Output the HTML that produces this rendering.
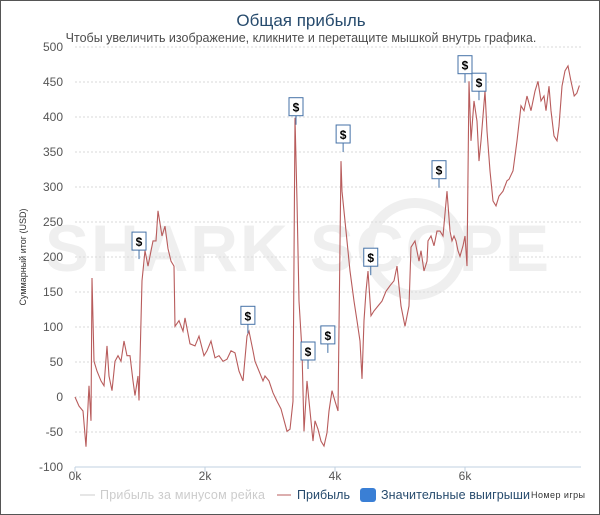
<!DOCTYPE html>
<html><head><meta charset="utf-8">
<style>
body{margin:0;background:#fff;font-family:"Liberation Sans","DejaVu Sans",sans-serif;}
#wrap{position:relative;width:598px;height:513px;border:1px solid #555;overflow:hidden;}
svg{position:absolute;left:0;top:0;}
</style></head><body>
<div id="wrap">
<svg id="chart" width="598" height="513"></svg>
</div>
<script>
const yTicks=[-100,-50,0,50,100,150,200,250,300,350,400,450,500];
const xTicks=[0,2000,4000,6000];
const xTickLabels=["0k","2k","4k","6k"];
const games=[0,62,123,169,215,246,262,292,338,400,446,492,523,569,615,662,708,754,800,846,892,923,969,985,1031,1077,1123,1200,1246,1277,1338,1385,1431,1477,1523,1538,1600,1662,1692,1769,1846,1908,1985,2031,2092,2154,2215,2277,2338,2400,2462,2523,2585,2646,2677,2738,2769,2831,2892,2923,2985,3046,3108,3169,3262,3308,3354,3385,3415,3446,3492,3523,3569,3615,3662,3692,3738,3785,3831,3877,3908,3954,4000,4046,4092,4108,4169,4231,4292,4338,4385,4415,4446,4477,4508,4554,4600,4662,4723,4785,4846,4908,4954,5015,5077,5138,5169,5231,5292,5323,5369,5415,5431,5477,5523,5569,5615,5662,5723,5769,5800,5831,5862,5892,5923,5969,6000,6031,6062,6092,6138,6185,6215,6246,6308,6338,6385,6431,6477,6523,6585,6646,6677,6738,6800,6862,6908,6954,7015,7077,7123,7169,7215,7246,7292,7323,7369,7415,7446,7492,7538,7585,7630,7680,7720,7760];
const profit=[0,-13,-20,-71,16,-34,170,51,37,23,16,73,30,9,51,59,51,80,59,59,23,2,30,-5,166,209,187,223,223,266,230,244,212,194,187,101,109,94,113,76,73,87,59,66,80,56,59,51,54,66,63,37,23,87,94,66,51,37,23,30,23,6,-6,-17,-49,-46,-6,399,280,137,66,-49,23,-20,-63,-34,-46,-63,-70,-51,-20,9,-6,-20,337,294,237,180,137,109,80,26,109,151,180,116,123,130,137,151,159,166,187,130,101,130,214,223,194,209,180,194,223,230,216,237,237,230,294,237,223,230,223,209,201,216,230,187,451,366,423,394,337,366,437,380,323,280,273,287,294,309,311,323,366,416,409,430,409,437,451,423,430,409,444,409,373,366,387,444,466,473,451,430,434,445,437];
const markerGames=[985,3400,4125,2660,3585,3890,4550,5600,6000,6215];
const markerValues=[197,389,350,91,40,63,174,299,449,424];

const NS="http://www.w3.org/2000/svg";
const svg=document.getElementById('chart');
const X0=74,X1=580,Y0=466,Y1=46;
const xs=g=>X0+g/1000*65;
const ys=v=>Y0-(v+100)/600*(Y0-Y1);
function mk(tag,attrs,parent){const e=document.createElementNS(NS,tag);for(const k in attrs)e.setAttribute(k,attrs[k]);(parent||svg).appendChild(e);return e;}

// watermark
const wm=mk('text',{x:297,y:270,'text-anchor':'middle','font-size':66,'font-weight':'bold',fill:'#efefef','letter-spacing':2,'font-family':'Liberation Sans, sans-serif'});


wm.textContent='SHARK SCOPE';
const wc=mk('circle',{cx:414,cy:248,r:46,fill:'none',stroke:'#efefef','stroke-width':10});



// title
const t=mk('text',{x:300,y:25,'text-anchor':'middle','font-size':17,fill:'#274b6d'});


t.textContent='Общая прибыль';
const st=mk('text',{x:300,y:41,'text-anchor':'middle','font-size':12.5,fill:'#4d4d4d'});


st.textContent='Чтобы увеличить изображение, кликните и перетащите мышкой внутрь графика.';

// grid + y labels
yTicks.forEach(v=>{
  const y=ys(v);
  const gl=mk('line',{x1:X0,x2:X1,y1:y,y2:y,stroke:v===-100?'#c0d0e0':'#d8d8d8','stroke-dasharray':v===-100?'':'2,2'});
  
  
  const tl=mk('text',{x:62,y:y+4,'text-anchor':'end','font-size':12,fill:'#555'});
  
  
  tl.textContent=v;
});
xTicks.forEach((g,i)=>{
  const x=xs(g);
  const tk=mk('line',{x1:x,x2:x,y1:Y0,y2:Y0+5,stroke:'#c0d0e0'});
  
  
  const tl=mk('text',{x:x,y:479,'text-anchor':'middle','font-size':12,fill:'#555'});
  
  
  tl.textContent=xTickLabels[i];
});
const yt=mk('text',{x:0,y:0,'text-anchor':'middle','font-size':9,fill:'#333',transform:'translate(25,256) rotate(-90)'});


yt.textContent='Суммарный итог (USD)';

// line
const pts=games.map((g,i)=>xs(g).toFixed(1)+','+ys(profit[i]).toFixed(1)).join(' ');
const pl=mk('polyline',{points:pts,fill:'none',stroke:'#b85c5c','stroke-width':1.1});



// markers
markerGames.forEach((g,i)=>{
  const x=xs(g),y=ys(markerValues[i]);
  const grp=mk('g',{});
  
  
  mk('line',{x1:x,x2:x,y1:y,y2:y-9,stroke:'#4572a7'},grp);
  mk('rect',{x:x-7,y:y-27,width:14,height:18,fill:'#fff',stroke:'#4572a7','stroke-width':1},grp);
  const tx=mk('text',{x:x,y:y-13,'text-anchor':'middle','font-size':12,'font-weight':'bold',fill:'#000'},grp);
  tx.textContent='$';
});

// legend
const lg=mk('g',{});


const l1=mk('g',{},lg);


mk('line',{x1:79,x2:94,y1:494,y2:494,stroke:'#ccc'},l1);
const lt1=mk('text',{x:99,y:498,'font-size':12.5,fill:'#ccc',textLength:165},l1);lt1.textContent='Прибыль за минусом рейка';
const l2=mk('g',{},lg);


mk('line',{x1:276,x2:290,y1:494,y2:494,stroke:'#b85c5c'},l2);
const lt2=mk('text',{x:296,y:498,'font-size':12.5,fill:'#274b6d',textLength:53},l2);lt2.textContent='Прибыль';
const l3=mk('g',{},lg);


mk('rect',{x:359,y:487,width:16,height:14,rx:3,fill:'#3a7fd5'},l3);
const lt3=mk('text',{x:380,y:498,'font-size':12.5,fill:'#274b6d',textLength:149},l3);lt3.textContent='Значительные выигрыши';
const xt=mk('text',{x:530,y:497,'font-size':9,fill:'#333',textLength:54});


xt.textContent='Номер игры';
</script>
</body></html>
